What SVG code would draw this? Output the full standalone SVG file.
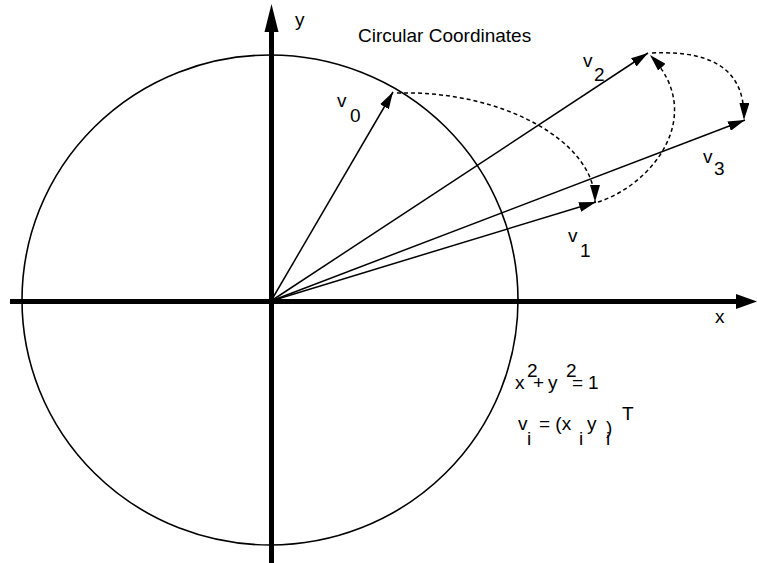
<svg xmlns="http://www.w3.org/2000/svg" width="757" height="563" viewBox="0 0 757 563">
<style>
text{font-family:"Liberation Sans",Arial,sans-serif;font-size:19px;fill:#000}
.axis{stroke:#000;stroke-width:5;fill:none}
.vec{stroke:#000;stroke-width:1.5;fill:none;marker-end:url(#ah)}
.dash{stroke:#000;stroke-width:1.5;fill:none;stroke-dasharray:4,3;marker-end:url(#ah)}
.circ{stroke:#000;stroke-width:1.6;fill:none}
</style>
<defs>
<marker id="ah" markerUnits="userSpaceOnUse" markerWidth="17" markerHeight="10" refX="17" refY="5" orient="auto">
<path d="M0,0 L17,5 L0,10 z" fill="#000"/>
</marker>
</defs>
<rect width="757" height="563" fill="#fff"/>
<g id="circle"><ellipse class="circ" cx="270" cy="300" rx="248" ry="245"/></g>
<g id="axes">
<line class="axis" x1="10" y1="301.5" x2="737" y2="301.5"/>
<polygon points="736,294 757,301.5 736,309" fill="#000"/>
<line class="axis" x1="271.5" y1="563" x2="271.5" y2="30"/>
<polygon points="264.5,32 271.5,4 278.5,32" fill="#000"/>
</g>
<g id="connectors">
<line class="vec" x1="271" y1="301" x2="393" y2="92"/>
<line class="vec" x1="271" y1="301" x2="596" y2="202"/>
<line class="vec" x1="271" y1="301" x2="648" y2="53"/>
<line class="vec" x1="271" y1="301" x2="745" y2="120"/>
<path class="dash" d="M397,93 C500,90 595,140 595,202"/>
<path class="dash" d="M598,202 C652,185 708,115 650,55"/>
<path class="dash" d="M652,53 C720,50 745,75 744,120"/>
</g>
<g id="title"><text x="358" y="42">Circular Coordinates</text></g>
<g id="axis-labels">
<text x="295" y="26">y</text>
<text x="715" y="323">x</text>
</g>
<g id="v0"><text x="337" y="107">v<tspan x="350" y="122">0</tspan></text></g>
<g id="v1"><text x="568" y="242">v<tspan x="580" y="257">1</tspan></text></g>
<g id="v2"><text x="583" y="67">v<tspan x="594" y="81">2</tspan></text></g>
<g id="v3"><text x="703" y="163">v<tspan x="714" y="175">3</tspan></text></g>
<g id="equation1">
<text x="515" y="389">x<tspan x="527" y="377">2</tspan><tspan x="533" y="389">+</tspan><tspan x="548" y="389">y</tspan><tspan x="566" y="377">2</tspan><tspan x="572" y="389">=</tspan><tspan x="588" y="389">1</tspan></text>
</g>
<g id="equation2">
<text x="518" y="430">v<tspan x="527" y="445">i</tspan><tspan x="539" y="430">= (x</tspan><tspan x="579" y="445">i</tspan><tspan x="587" y="430">y</tspan><tspan x="606" y="445">i</tspan><tspan x="606" y="434">)</tspan><tspan x="622" y="420">T</tspan></text>
</g>
</svg>
